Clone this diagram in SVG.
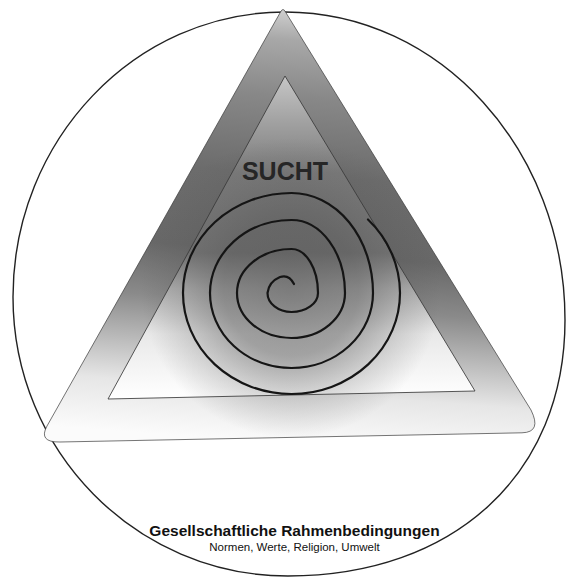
<svg xmlns="http://www.w3.org/2000/svg" width="566" height="577" viewBox="0 0 566 577">
  <defs>
    <style>
      .frame { fill: none; stroke: #222; stroke-width: 1.4; }
      .edge { fill: none; stroke: #3a3a3a; stroke-width: 1; stroke-linejoin: round; }
      .spiral { fill: none; stroke: #151515; stroke-width: 2.2; stroke-linecap: round; }
      .title { font-family: "Liberation Sans", Arial, sans-serif; font-weight: bold; font-size: 25px; fill: #262626; text-anchor: middle; }
      .caption { font-family: "Liberation Sans", Arial, sans-serif; font-weight: bold; font-size: 15.5px; fill: #111; text-anchor: middle; }
      .sub { font-family: "Liberation Sans", Arial, sans-serif; font-size: 11.5px; fill: #111; text-anchor: middle; }
    </style>
    <linearGradient id="bandGrad" gradientUnits="userSpaceOnUse" x1="300" y1="10" x2="268" y2="442">
      <stop offset="0" stop-color="#d0d0d0"/>
      <stop offset="0.07" stop-color="#a8a8a8"/>
      <stop offset="0.2" stop-color="#888888"/>
      <stop offset="0.38" stop-color="#6c6c6c"/>
      <stop offset="0.56" stop-color="#686868"/>
      <stop offset="0.68" stop-color="#8a8a8a"/>
      <stop offset="0.78" stop-color="#b8b8b8"/>
      <stop offset="0.88" stop-color="#e6e6e6"/>
      <stop offset="1" stop-color="#fbfbfb"/>
    </linearGradient>
    <linearGradient id="innerGrad" gradientUnits="userSpaceOnUse" x1="285" y1="76" x2="285" y2="398">
      <stop offset="0" stop-color="#c6c6c6"/>
      <stop offset="0.14" stop-color="#a2a2a2"/>
      <stop offset="0.3" stop-color="#7c7c7c"/>
      <stop offset="0.55" stop-color="#787878"/>
      <stop offset="0.66" stop-color="#b4b4b4"/>
      <stop offset="0.8" stop-color="#e8e8e8"/>
      <stop offset="1" stop-color="#ffffff"/>
    </linearGradient>
    <radialGradient id="spiralShade" gradientUnits="userSpaceOnUse" cx="291" cy="288" r="150">
      <stop offset="0" stop-color="#555" stop-opacity="0.6"/>
      <stop offset="0.45" stop-color="#555" stop-opacity="0.5"/>
      <stop offset="0.75" stop-color="#555" stop-opacity="0.2"/>
      <stop offset="1" stop-color="#555" stop-opacity="0"/>
    </radialGradient>
    <clipPath id="outerClip">
      <path d="M 280.5,12 Q 283,7 285.5,12 L 531,410 Q 542,432.3 522,432.8 L 60,442 Q 38,442.4 47,426 Z"/>
    </clipPath>
  </defs>

  <rect x="0" y="0" width="566" height="577" fill="#ffffff"/>

  <g id="frame">
    <path class="frame" d="M 285,12 C 135,12 13,140 13,297 C 13,451 136,576 288,576 C 454,576 565,474 565,320 C 565,150 440,12 285,12 Z"/>
  </g>

  <g id="outer-triangle">
    <path fill="url(#bandGrad)" d="M 280.5,12 Q 283,7 285.5,12 L 531,410 Q 542,432.3 522,432.8 L 60,442 Q 38,442.4 47,426 Z"/>
  </g>

  <g id="inner-triangle">
    <path fill="url(#innerGrad)" d="M 285,76 L 475,391 L 108,399 Z"/>
  </g>

  <g id="shade" clip-path="url(#outerClip)">
    <rect x="130" y="130" width="330" height="320" fill="url(#spiralShade)"/>
  </g>

  <g id="edges">
    <path class="edge" stroke-opacity="0.7" stroke-width="0.9" d="M 280.5,12 Q 283,7 285.5,12 L 531,410 Q 542,432.3 522,432.8 L 60,442 Q 38,442.4 47,426 Z"/>
    <path class="edge" stroke-opacity="0.85" d="M 285,76 L 475,391 L 108,399 Z"/>
  </g>

  <g id="spiral">
    <path class="spiral" d="M 294,284 Q 289,274 280,277 A 22 20 0 0 0 267.5,293 A 24 19 0 0 0 291.5,312 A 26.5 19 0 0 0 318,293 A 26.5 44 0 0 0 291.5,249 A 54.5 44 0 0 0 237,293 A 54.5 45 0 0 0 291.5,338 A 53.5 45 0 0 0 345,293 A 53.5 73 0 0 0 291.5,220 A 81.5 73 0 0 0 210,293 A 81.5 75 0 0 0 291.5,368 A 81.5 75 0 0 0 373,293 A 81.5 100 0 0 0 291.5,193 A 108.5 100 0 0 0 183,293 A 108.5 101 0 0 0 291.5,394 A 108.5 101 0 0 0 400,293 A 108.5 104 0 0 0 368,219.5"/>
  </g>

  <g id="label-sucht">
    <text class="title" x="285" y="180">SUCHT</text>
  </g>

  <g id="label-bottom">
    <text class="caption" x="294.5" y="535.5">Gesellschaftliche Rahmenbedingungen</text>
    <text class="sub" x="294.5" y="550.5">Normen, Werte, Religion, Umwelt</text>
  </g>
</svg>
